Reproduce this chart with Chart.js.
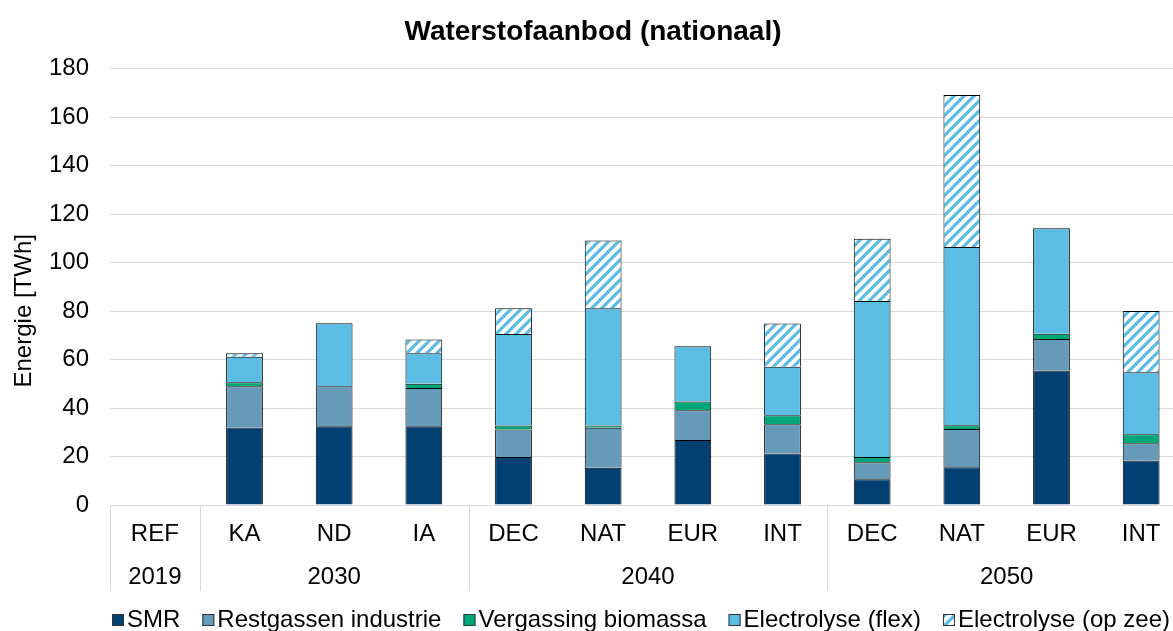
<!DOCTYPE html>
<html>
<head>
<meta charset="utf-8">
<script src="https://cdn.jsdelivr.net/npm/chart.js@4.4.1/dist/chart.umd.min.js"></script>
<style>
  html, body { margin: 0; padding: 0; background: #fff; overflow: hidden; }
  #wrap { width: 1173px; height: 631px; overflow: hidden; }
  #box { width: 1186px; height: 631px; }
</style>
</head>
<body>
<div id="wrap"><div id="box"><canvas id="myChart"></canvas></div></div>
<script>
// categories (first row) and year groups (second row)
const scenarios = ['REF', 'KA', 'ND', 'IA', 'DEC', 'NAT', 'EUR', 'INT', 'DEC', 'NAT', 'EUR', 'INT'];
const yearGroups = [
  { label: '2019', from: 0, to: 0 },
  { label: '2030', from: 1, to: 3 },
  { label: '2040', from: 4, to: 7 },
  { label: '2050', from: 8, to: 11 }
];

// TWh per source
const smr        = [0, 32.0, 32.5, 32.5, 19.8, 15.4, 26.8, 21.2, 10.6, 15.6, 55.5, 18.4];
const restgassen = [0, 17.0, 16.5, 15.8, 11.3, 16.5, 12.3, 12.1,  7.0, 15.7, 13.0,  7.1];
const vergassing = [0,  1.6,  0.0,  1.7,  1.7,  0.9,  3.6,  3.7,  2.2,  1.6,  2.1,  3.7];
const elecFlex   = [0, 10.5, 26.0, 12.6, 37.7, 48.4, 22.8, 20.0, 64.3, 73.5, 43.6, 25.6];
const elecZee    = [0,  1.5,  0.0,  5.7, 10.7, 27.9,  0.0, 17.9, 25.7, 62.7,  0.0, 25.2];

const yTicks = { min: 0, max: 180, step: 20 };
const yTitle = 'Energie [TWh]';

const FONT = "'Liberation Sans', Arial, sans-serif";
const GRID = '#d9d9d9';

function makeHatch() {
  const size = 10;
  const c = document.createElement('canvas');
  c.width = size; c.height = size;
  const g = c.getContext('2d');
  g.fillStyle = '#ffffff';
  g.fillRect(0, 0, size, size);
  g.strokeStyle = '#5bbde4';
  g.lineWidth = 3.2;
  g.beginPath();
  g.moveTo(0, size); g.lineTo(size, 0);
  g.moveTo(-size / 2, size / 2); g.lineTo(size / 2, -size / 2);
  g.moveTo(size / 2, size * 1.5); g.lineTo(size * 1.5, size / 2);
  g.stroke();
  return g.createPattern(c, 'repeat');
}

// second label row, category separators, y title and legend
const extras = {
  id: 'extras',
  afterDraw(chart) {
    const x = chart.scales.x;
    const ctx = chart.ctx;
    const area = chart.chartArea;
    const top = area.bottom;
    ctx.save();
    ctx.strokeStyle = GRID;
    ctx.lineWidth = 1;
    yearGroups.forEach((grp) => {
      const px = grp.from === 0 ? x.left : (x.getPixelForValue(grp.from - 1) + x.getPixelForValue(grp.from)) / 2;
      ctx.beginPath();
      ctx.moveTo(Math.round(px) + 0.5, top);
      ctx.lineTo(Math.round(px) + 0.5, top + 86);
      ctx.stroke();
    });
    ctx.fillStyle = '#000';
    ctx.font = '24px ' + FONT;
    ctx.textAlign = 'center';
    ctx.textBaseline = 'middle';
    yearGroups.forEach((grp) => {
      const cx = (x.getPixelForValue(grp.from) + x.getPixelForValue(grp.to)) / 2;
      ctx.fillText(grp.label, cx, top + 72);
    });

    // y axis title
    ctx.save();
    ctx.translate(24, (area.top + area.bottom) / 2 + 24);
    ctx.rotate(-Math.PI / 2);
    ctx.fillText(yTitle, 0, 0);
    ctx.restore();

    // legend
    ctx.textAlign = 'left';
    let lx = 112;
    const ly = top + 115;
    chart.data.datasets.forEach((d) => {
      ctx.fillStyle = d.backgroundColor;
      ctx.fillRect(lx, ly - 6, 12, 12);
      ctx.strokeStyle = '#333';
      ctx.lineWidth = 1;
      ctx.strokeRect(lx + 0.5, ly - 5.5, 11, 11);
      ctx.fillStyle = '#000';
      ctx.fillText(d.label, lx + 15, ly);
      lx += 15 + ctx.measureText(d.label).width + 22;
    });
    ctx.restore();
  }
};

const ds = (label, data, color) => ({
  label: label,
  data: data,
  backgroundColor: color,
  borderColor: '#000',
  borderWidth: 1,
  barPercentage: 0.41,
  categoryPercentage: 1
});

const ctx = document.getElementById('myChart').getContext('2d');
const myChart = new Chart(ctx, {
  type: 'bar',
  data: {
    labels: scenarios,
    datasets: [
      ds('SMR', smr, '#023f73'),
      ds('Restgassen industrie', restgassen, '#659bb9'),
      ds('Vergassing biomassa', vergassing, '#00a879'),
      ds('Electrolyse (flex)', elecFlex, '#5bbde4'),
      ds('Electrolyse (op zee)', elecZee, makeHatch())
    ]
  },
  options: {
    responsive: true,
    maintainAspectRatio: false,
    animation: false,
    layout: { padding: { left: 0, right: 0, top: 0, bottom: 36 } },
    plugins: {
      title: {
        display: true,
        text: 'Waterstofaanbod (nationaal)',
        color: '#000',
        font: { family: FONT, size: 28, weight: 'bold' },
        padding: { top: 15, bottom: 20 }
      },
      legend: { display: false },
      tooltip: { enabled: false }
    },
    scales: {
      x: {
        stacked: true,
        grid: { display: false, drawTicks: false },
        border: { display: true, color: GRID },
        ticks: { color: '#000', font: { family: FONT, size: 24 }, padding: 15, maxRotation: 0, autoSkip: false },
        afterFit(scale) { scale.height = 90; }
      },
      y: {
        stacked: true,
        min: yTicks.min,
        max: yTicks.max,
        grid: { color: GRID, drawTicks: false },
        border: { display: false },
        ticks: { stepSize: yTicks.step, color: '#000', font: { family: FONT, size: 24 }, padding: 21 },
        afterFit(scale) { scale.width = 110; }
      }
    }
  },
  plugins: [extras]
});
</script>
</body>
</html>
